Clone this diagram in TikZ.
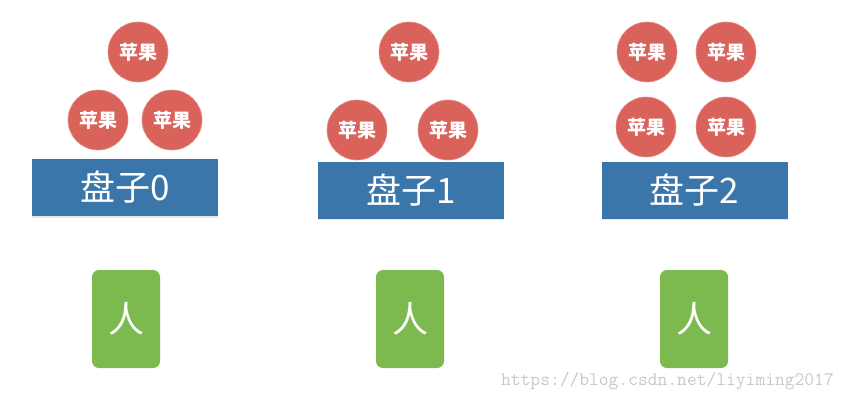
\documentclass[tikz,border=0pt]{standalone}
\usepackage{fontspec}
\usetikzlibrary{shadows}
\newfontfamily\cjk{Noto Sans CJK SC}
\definecolor{applered}{HTML}{D9635A}
\definecolor{plateblue}{HTML}{3A76AA}
\definecolor{mangreen}{HTML}{7CB94F}
\definecolor{wmgray}{HTML}{C8C8C8}
\tikzset{
  apple/.style={circle, fill=applered, draw=applered!70!white, line width=0.6pt, minimum size=60pt, inner sep=0pt, text=white, font=\cjk\bfseries\fontsize{19}{19}\selectfont},
  plate/.style={rectangle, fill=plateblue, minimum width=186pt, minimum height=57pt, inner sep=0pt, text=white, font=\cjk\fontsize{35}{35}\selectfont, drop shadow={shadow xshift=0pt, shadow yshift=-1.5pt, opacity=0.2}},
  man/.style={rectangle, rounded corners=7pt, fill=mangreen, minimum width=68pt, minimum height=98pt, inner sep=0pt, text=white, font=\cjk\fontsize{36}{36}\selectfont},
}
\begin{document}
\begin{tikzpicture}[x=1pt,y=-1pt]
\useasboundingbox (0,0) rectangle (844,400);
% group 0
\node[apple] (a0t) at (138,52) {苹果};
\node[apple] (a0l) at (98,120) {苹果};
\node[apple] (a0r) at (172,120) {苹果};
\node[plate] (p0) at (125,187.5) {盘子0};
\node[man] (m0) at (126,319) {人};
% group 1
\node[apple] (a1t) at (409,52) {苹果};
\node[apple] (a1l) at (357,130) {苹果};
\node[apple] (a1r) at (448,130) {苹果};
\node[plate] (p1) at (411,190) {盘子1};
\node[man] (m1) at (410,319) {人};
% group 2
\node[apple] (a2tl) at (647,52) {苹果};
\node[apple] (a2tr) at (726,52) {苹果};
\node[apple] (a2bl) at (646,127) {苹果};
\node[apple] (a2br) at (726,127) {苹果};
\node[plate] (p2) at (694.5,190) {盘子2};
\node[man] (m2) at (694,319) {人};
% watermark
\node[text=wmgray, font=\ttfamily\fontsize{19}{19}\selectfont, anchor=east, inner sep=0pt] (wm) at (834,381) {https://blog.csdn.net/liyiming2017};
\end{tikzpicture}
\end{document}
